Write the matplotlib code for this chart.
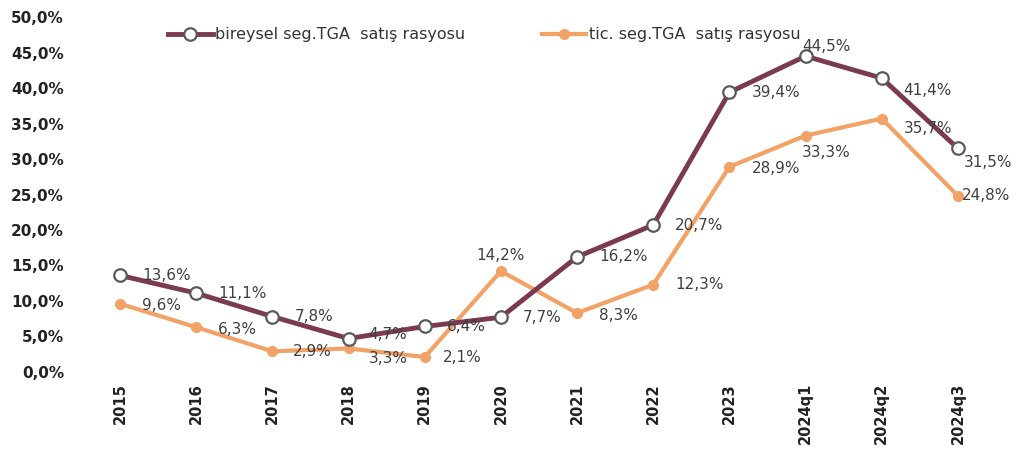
import matplotlib
matplotlib.use("Agg")
import matplotlib.pyplot as plt
from matplotlib.ticker import FuncFormatter

categories = ["2015", "2016", "2017", "2018", "2019", "2020", "2021", "2022",
              "2023", "2024q1", "2024q2", "2024q3"]
bireysel = [13.6, 11.1, 7.8, 4.7, 6.4, 7.7, 16.2, 20.7, 39.4, 44.5, 41.4, 31.5]
ticari = [9.6, 6.3, 2.9, 3.3, 2.1, 14.2, 8.3, 12.3, 28.9, 33.3, 35.7, 24.8]
yticks = [0, 5, 10, 15, 20, 25, 30, 35, 40, 45, 50]
name_b = "bireysel seg.TGA  satış rasyosu"
name_t = "tic. seg.TGA  satış rasyosu"

plt.rcParams['font.family'] = ['DejaVu Sans']

fig = plt.figure(figsize=(10.27, 4.62), dpi=100)
ax = fig.add_axes([0.0798, 0.195, 0.890, 0.768])

x = list(range(len(categories)))
c_b = "#7b3a52"
c_t = "#f2a266"

ax.plot(x, ticari, color=c_t, lw=3, marker='o', ms=7, mfc=c_t, mec=c_t,
        zorder=2, label=name_t)
ax.plot(x, bireysel, color=c_b, lw=3.5, marker='o', ms=9, mfc='white',
        mec='#5a5a5a', mew=1.6, zorder=3, label=name_b)

def fmt(v):
    return f"{v:.1f}".replace('.', ',') + '%'

# pixel offsets (dx, dy, ha, va)
off_b = {i: (22, 0, 'left', 'center') for i in x}
off_b[3] = (20, 4, 'left', 'center')
off_b[9] = (-3, 10, 'left', 'center')
off_b[10] = (22, -12, 'left', 'center')
off_b[11] = (6, -14, 'left', 'center')
off_t = {i: (22, -2, 'left', 'center') for i in x}
off_t[2] = (20, 0, 'left', 'center')
off_t[3] = (20, -10, 'left', 'center')
off_t[4] = (18, 0, 'left', 'center')
off_t[5] = (0, 16, 'center', 'center')
off_t[7] = (22, 0, 'left', 'center')
off_t[9] = (-4, -17, 'left', 'center')
off_t[10] = (22, -10, 'left', 'center')
off_t[11] = (4, 0, 'left', 'center')

for i, v in enumerate(bireysel):
    dx, dy, ha, va = off_b[i]
    ax.annotate(fmt(v), (i, v), xytext=(dx, dy), textcoords='offset pixels',
                ha=ha, va=va, fontsize=11, color='#404040', zorder=5)
for i, v in enumerate(ticari):
    dx, dy, ha, va = off_t[i]
    ax.annotate(fmt(v), (i, v), xytext=(dx, dy), textcoords='offset pixels',
                ha=ha, va=va, fontsize=11, color='#404040', zorder=5)

ax.set_xlim(-0.5, 11.5)
ax.set_ylim(0, 50)
ax.set_yticks(yticks)
ax.yaxis.set_major_formatter(FuncFormatter(lambda v, p: f"{v:.1f}".replace('.', ',') + '%'))
ax.set_xticks(x)
ax.set_xticklabels(categories, rotation=90, fontweight='bold', fontsize=10.5,
                   color='#222222')
for lab in ax.get_yticklabels():
    lab.set_fontweight('bold')
    lab.set_fontsize(11)
    lab.set_color('#222222')
ax.tick_params(axis='both', length=0)
ax.tick_params(axis='y', pad=13)
ax.tick_params(axis='x', pad=8)
for s in ax.spines.values():
    s.set_visible(False)

handles, labels = ax.get_legend_handles_labels()
leg = ax.legend(handles[::-1], labels[::-1], ncol=2, loc='center left',
                bbox_to_anchor=(0.087, 0.95), frameon=False, fontsize=11.5,
                handlelength=2.8, columnspacing=4.8, handletextpad=0.15,
                borderaxespad=0)
for t in leg.get_texts():
    t.set_color('#333333')

fig.savefig("out.png", dpi=100)
